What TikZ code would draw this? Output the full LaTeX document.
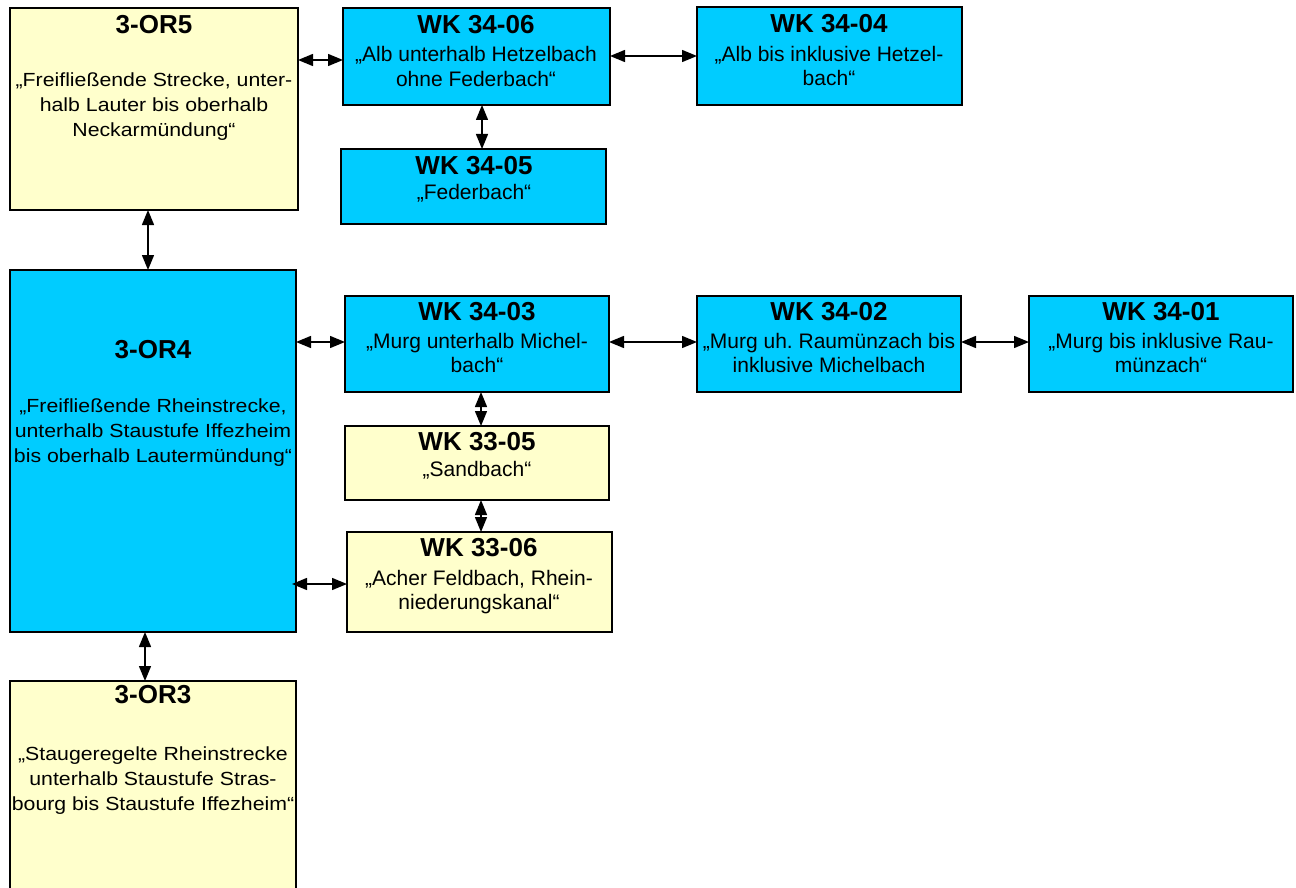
\documentclass[tikz,border=0pt]{standalone}
\usepackage{fontspec}
\setmainfont{Liberation Sans}
\newfontfamily\wideface{Liberation Sans}[FakeStretch=1.12]
\usetikzlibrary{arrows.meta,positioning}
\definecolor{wkblue}{HTML}{00CCFF}
\definecolor{wkyellow}{HTML}{FFFFCC}
\tikzset{
  box/.style={draw=black, line width=1.4pt, inner sep=0pt, outer sep=0pt, anchor=north west},
  bluebox/.style={box, fill=wkblue},
  yellowbox/.style={box, fill=wkyellow},
  title/.style={inner sep=0pt, font=\fontsize{26}{28}\selectfont\bfseries},
  body/.style={inner sep=0pt, align=center, font=\fontsize{21}{24.5}\selectfont},
  orbody/.style={inner sep=0pt, align=center, font=\wideface\fontsize{19}{25}\selectfont},
  link/.style={{Triangle[length=15pt,width=12pt]}-{Triangle[length=15pt,width=12pt]}, line width=1.4pt}
}
\begin{document}
\begin{tikzpicture}[x=1pt, y=-1pt]
\useasboundingbox (0,0) rectangle (1296,888);

\node[yellowbox, minimum width=288pt, minimum height=202pt] (or5) at (10,8) {};
\node[title] (or5t) at (154,25) {3-OR5};
\node[orbody] (or5b) at (154,107) {„Freifließende Strecke, unter-\\halb Lauter bis oberhalb\\Neckarmündung“};

\node[bluebox, minimum width=286pt, minimum height=362pt] (or4) at (10,270) {};
\node[title] (or4t) at (153,350) {3-OR4};
\node[orbody] (or4b) at (153,433) {„Freifließende Rheinstrecke,\\unterhalb Staustufe Iffezheim\\bis oberhalb Lautermündung“};

\node[yellowbox, minimum width=286pt, minimum height=212pt] (or3) at (10,681) {};
\node[title] (or3t) at (153,695) {3-OR3};
\node[orbody] (or3b) at (153,781) {„Staugeregelte Rheinstrecke\\unterhalb Staustufe Stras-\\bourg bis Staustufe Iffezheim“};

\node[bluebox, minimum width=267pt, minimum height=97pt] (wk3406) at (343,8) {};
\node[title] (wk3406t) at (476,25) {WK 34-06};
\node[body] (wk3406b) at (476,66.5) {„Alb unterhalb Hetzelbach\\ohne Federbach“};

\node[bluebox, minimum width=265pt, minimum height=98pt] (wk3404) at (697,7) {};
\node[title] (wk3404t) at (829,24) {WK 34-04};
\node[body] (wk3404b) at (829,66) {„Alb bis inklusive Hetzel-\\bach“};

\node[bluebox, minimum width=265pt, minimum height=75pt] (wk3405) at (341,149) {};
\node[title] (wk3405t) at (474,166) {WK 34-05};
\node[body] (wk3405b) at (474,193) {„Federbach“};

\node[bluebox, minimum width=264pt, minimum height=96pt] (wk3403) at (345,296) {};
\node[title] (wk3403t) at (477,312) {WK 34-03};
\node[body] (wk3403b) at (477,353) {„Murg unterhalb Michel-\\bach“};

\node[bluebox, minimum width=264pt, minimum height=96pt] (wk3402) at (697,296) {};
\node[title] (wk3402t) at (829,312) {WK 34-02};
\node[body] (wk3402b) at (829,353) {„Murg uh.\ Raumünzach bis\\inklusive Michelbach};

\node[bluebox, minimum width=264pt, minimum height=96pt] (wk3401) at (1029,296) {};
\node[title] (wk3401t) at (1161,312) {WK 34-01};
\node[body] (wk3401b) at (1161,353) {„Murg bis inklusive Rau-\\münzach“};

\node[yellowbox, minimum width=264pt, minimum height=74pt] (wk3305) at (345,426) {};
\node[title] (wk3305t) at (477,442) {WK 33-05};
\node[body] (wk3305b) at (477,470) {„Sandbach“};

\node[yellowbox, minimum width=265pt, minimum height=100pt] (wk3306) at (347,532) {};
\node[title] (wk3306t) at (479,548) {WK 33-06};
\node[body] (wk3306b) at (479,592) {„Acher Feldbach, Rhein-\\niederungskanal“};

\draw[link] (or5.east |- 0,60) -- (wk3406.west |- 0,60);
\draw[link] (wk3406.east |- 0,56) -- (wk3404.west |- 0,56);
\draw[link] (wk3406.south -| 482,0) -- (wk3405.north -| 482,0);
\draw[link] (or5.south -| 148,0) -- (or4.north -| 148,0);
\draw[link] (or4.east |- 0,342) -- (wk3403.west |- 0,342);
\draw[link] (wk3403.east |- 0,342) -- (wk3402.west |- 0,342);
\draw[link] (wk3402.east |- 0,342) -- (wk3401.west |- 0,342);
\draw[link] (wk3403.south -| 481,0) -- (wk3305.north -| 481,0);
\draw[link] (wk3305.south -| 481,0) -- (wk3306.north -| 481,0);
\draw[link] ([xshift=-4pt]or4.east |- 0,584) -- (wk3306.west |- 0,584);
\draw[link] (or4.south -| 145,0) -- (or3.north -| 145,0);
\end{tikzpicture}
\end{document}
